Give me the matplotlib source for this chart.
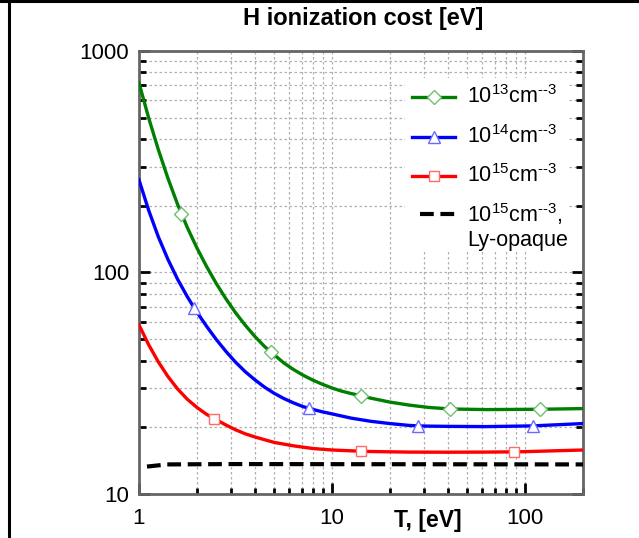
import matplotlib
matplotlib.use("Agg")
import matplotlib.pyplot as plt
from matplotlib.lines import Line2D
from matplotlib.patches import Rectangle
from matplotlib.ticker import LogLocator, NullFormatter, FixedLocator

plt.rcParams['font.family'] = ['Liberation Sans', 'DejaVu Sans']
plt.rcParams['mathtext.fontset'] = 'custom'
plt.rcParams['mathtext.rm'] = 'Liberation Sans'
plt.rcParams['mathtext.it'] = 'Liberation Sans:italic'
plt.rcParams['mathtext.bf'] = 'Liberation Sans:bold'

# ---- data: ionization cost [eV] vs temperature T [eV] ----
t_13 = [1.0, 1.122, 1.259, 1.413, 1.585, 1.66, 1.778, 1.995, 2.239, 2.512, 2.818,
        3.162, 3.548, 3.981, 4.467, 4.85, 5.623, 6.31, 7.08, 7.94, 8.91, 10.0,
        11.2, 12.6, 14.1, 15.85, 19.95, 25.1, 31.6, 41.0, 63.1, 120, 200]
cost_13 = [718, 499, 359, 266, 203, 184.5, 160, 129.2, 106.5, 89.3, 76.2,
           65.9, 57.9, 51.5, 46.4, 43.6, 39.1, 36.5, 34.4, 32.7, 31.3, 30.1,
           29.15, 28.4, 27.8, 27.1, 26.0, 25.2, 24.6, 24.2, 24.05, 24.13, 24.3]
marks_13 = [5, 15, 24, 29, 31]

t_14 = [1.0, 1.122, 1.259, 1.413, 1.585, 1.778, 1.93, 1.995, 2.239, 2.512, 2.818,
        3.162, 3.548, 3.981, 4.467, 5.012, 5.623, 6.31, 7.08, 7.6, 7.94, 8.91,
        10.0, 12.6, 15.85, 19.95, 25.1, 28, 31.6, 39.8, 63.1, 110, 200]
cost_14 = [262, 191, 145, 114.5, 93.2, 77.9, 69.3, 66.3, 57.2, 49.9, 44.1,
           39.4, 35.7, 32.8, 30.4, 28.5, 27.0, 25.8, 24.8, 24.4, 24.1, 23.5,
           23.0, 22.0, 21.3, 20.8, 20.4, 20.3, 20.25, 20.2, 20.15, 20.3, 20.8]
marks_14 = [6, 19, 27, 31]

t_15 = [1.0, 1.122, 1.259, 1.413, 1.585, 1.778, 1.995, 2.239, 2.45, 2.818, 3.162,
        3.548, 3.981, 5.012, 6.31, 7.94, 10.0, 14.1, 15.85, 25.1, 39.8, 63.1, 88,
        100, 200]
cost_15 = [58.0, 47.2, 39.5, 33.9, 29.8, 26.8, 24.6, 22.9, 21.9, 20.5, 19.5,
           18.7, 18.1, 17.1, 16.5, 16.05, 15.8, 15.6, 15.55, 15.46, 15.44, 15.46, 15.5,
           15.53, 15.8]
marks_15 = [8, 17, 22]

t_15_ly = [1.1, 1.4, 3.0, 200]
cost_15_ly = [13.3, 13.6, 13.65, 13.6]

legend_labels = [r'$\mathregular{10^{13}cm^{\text{--3}}}$',
                 r'$\mathregular{10^{14}cm^{\text{--3}}}$',
                 r'$\mathregular{10^{15}cm^{\text{--3}}}$',
                 r'$\mathregular{10^{15}cm^{\text{--3}}}$,']
legend_extra = 'Ly-opaque'

x_ticks = [1, 10, 100]
x_ticklabels = ['1', '10', '100']
y_ticks = [10, 100, 1000]
y_ticklabels = ['10', '100', '1000']

W, H = 639, 538
fig = plt.figure(figsize=(W / 100, H / 100), dpi=100)
ax = fig.add_axes([139 / W, 1 - 494 / H, (583 - 139) / W, (494 - 51) / H])

green, blue, red = '#008000', '#0000ff', '#ff0000'
styles = [
    dict(color=green, marker='D', ms=7, mec='#70c070'),
    dict(color=blue, marker='^', ms=8.5, mec='#6a6aff'),
    dict(color=red, marker='s', ms=7.5, mec='#ff6a6a'),
]
series = [(t_13, cost_13, marks_13), (t_14, cost_14, marks_14), (t_15, cost_15, marks_15)]

for (t, c, m), st in zip(series, styles):
    ax.plot(t, c, color=st['color'], lw=2.4, marker=st['marker'], ms=st['ms'],
            mfc='white', mec=st['mec'], mew=1.0, markevery=m, zorder=3,
            solid_joinstyle='round')
ax.plot(t_15_ly, cost_15_ly, color='black', lw=3.0, dashes=(3.3, 1.6), zorder=3)

ax.set_xscale('log')
ax.set_yscale('log')
ax.set_xlim(1, 200)
ax.set_ylim(10, 1000)

ax.xaxis.set_major_locator(FixedLocator(x_ticks))
ax.set_xticklabels(x_ticklabels)
ax.xaxis.set_minor_locator(LogLocator(base=10, subs=range(2, 10)))
ax.xaxis.set_minor_formatter(NullFormatter())
ax.yaxis.set_major_locator(FixedLocator(y_ticks))
ax.set_yticklabels(y_ticklabels)
ax.yaxis.set_minor_locator(LogLocator(base=10, subs=range(2, 10)))
ax.yaxis.set_minor_formatter(NullFormatter())

ax.tick_params(axis='both', which='both', direction='in', color='black', labelsize=16)
ax.tick_params(axis='x', which='major', length=8, width=2, pad=10, top=False)
ax.tick_params(axis='x', which='minor', length=4, width=2, top=False)
ax.tick_params(axis='y', which='major', length=8, width=2, pad=7, right=True)
ax.tick_params(axis='y', which='minor', length=5, width=2, right=True)

ax.set_axisbelow(True)
ax.grid(True, which='both', color='#b0b0b0', lw=0.9, ls=(0, (2, 2)))

for sp in ax.spines.values():
    sp.set_color('#666666')
    sp.set_linewidth(2.0)

# legend drawn by hand so the last handle sits on the first text line
ax.add_patch(Rectangle((405, 538 - 250), 163, 172, transform=None, facecolor='white',
                       edgecolor='none', zorder=1))
def fx(px):
    return (px - 139) / (583 - 139)
def fy(py):
    return (494 - py) / (494 - 51)

rows = [96.7, 136.7, 175.5, 214.5]
for i, st in enumerate(styles):
    y = fy(rows[i])
    ax.add_line(Line2D([fx(412), fx(455)], [y, y], transform=ax.transAxes,
                       color=st['color'], lw=2.4, zorder=4, clip_on=False))
    ax.add_line(Line2D([fx(433.5)], [y], transform=ax.transAxes, marker=st['marker'],
                       ms=st['ms'], mfc='white', mec=st['mec'], mew=1.0, ls='none',
                       zorder=5, clip_on=False))
y = fy(rows[3])
ax.add_line(Line2D([fx(420), fx(455)], [y, y], transform=ax.transAxes, color='black',
                   lw=3.0, dashes=(3.3, 1.6), zorder=4, clip_on=False))
for i, lab in enumerate(legend_labels):
    ax.text(fx(467), fy(rows[i]), lab, transform=ax.transAxes, fontsize=15.5,
            ha='left', va='center', zorder=5)
ax.text(fx(467), fy(240.5), legend_extra, transform=ax.transAxes, fontsize=15.5,
        ha='left', va='center', zorder=5)

fig.text(363 / W, 1 - 18 / H, 'H ionization cost [eV]', ha='center', va='center',
         fontsize=17, fontweight='bold')
fig.text(428 / W, 1 - 521 / H, 'T, [eV]', ha='center', va='center',
         fontsize=16.5, fontweight='bold')

# page frame lines
fig.add_artist(Line2D([8.5 / W, 8.5 / W], [0, 1], transform=fig.transFigure,
                      color='black', lw=2.2))
fig.add_artist(Line2D([0, 1], [1 - 1 / H, 1 - 1 / H], transform=fig.transFigure,
                      color='black', lw=2.2))

fig.savefig('out.png', dpi=100, facecolor='white')
